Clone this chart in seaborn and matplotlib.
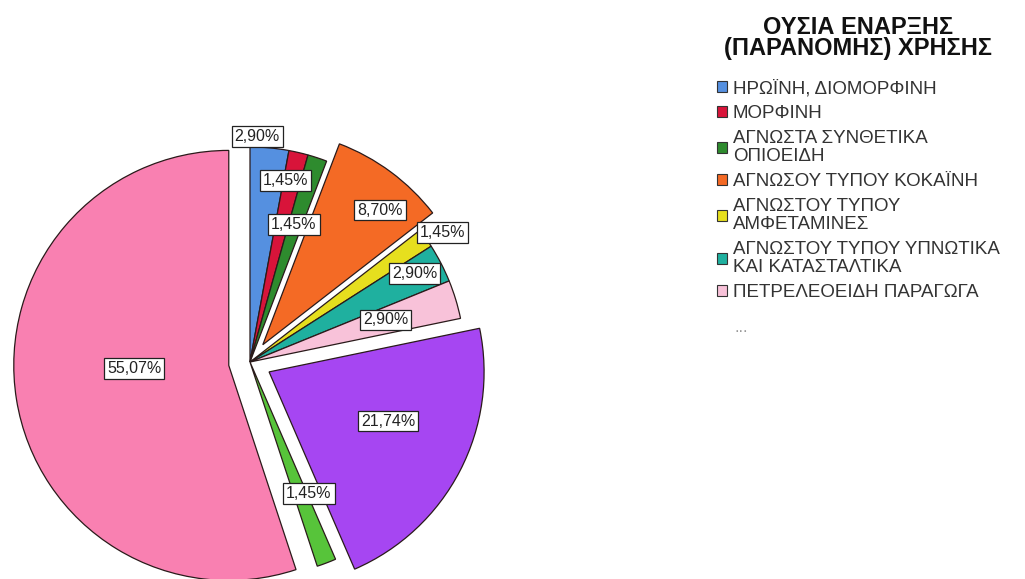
import numpy as np
import matplotlib
matplotlib.use("Agg")
import matplotlib.pyplot as plt
from matplotlib.patches import Patch
import seaborn as sns

# Share of each substance (percent), clockwise from 12 o'clock
shares = [2.90, 1.45, 1.45, 8.70, 1.45, 2.90, 2.90, 21.74, 1.45, 55.07]
share_labels = ["2,90%", "1,45%", "1,45%", "8,70%", "1,45%",
                "2,90%", "2,90%", "21,74%", "1,45%", "55,07%"]
legend_title = "ΟΥΣΙΑ ΕΝΑΡΞΗΣ\n(ΠΑΡΑΝΟΜΗΣ) ΧΡΗΣΗΣ"
legend_names = ["ΗΡΩΪΝΗ, ΔΙΟΜΟΡΦΙΝΗ",
                "ΜΟΡΦΙΝΗ",
                "ΑΓΝΩΣΤΑ ΣΥΝΘΕΤΙΚΑ\nΟΠΙΟΕΙΔΗ",
                "ΑΓΝΩΣΟΥ ΤΥΠΟΥ ΚΟΚΑΪΝΗ",
                "ΑΓΝΩΣΤΟΥ ΤΥΠΟΥ\nΑΜΦΕΤΑΜΙΝΕΣ",
                "ΑΓΝΩΣΤΟΥ ΤΥΠΟΥ ΥΠΝΩΤΙΚΑ\nΚΑΙ ΚΑΤΑΣΤΑΛΤΙΚΑ",
                "ΠΕΤΡΕΛΕΟΕΙΔΗ ΠΑΡΑΓΩΓΑ"]

sns.set_theme(style="white")
plt.rcParams["font.family"] = ["Liberation Sans", "DejaVu Sans"]

colors = sns.color_palette(["#5590e0", "#d8143a", "#2e8b2e", "#f46a25", "#e6df1e",
                            "#1fb09f", "#f8c2d9", "#a646f2", "#57c43a", "#f980b1"])
explode = [0, 0, 0, 0.1, 0, 0, 0, 0.1, 0, 0.1]

# label placement: distance from centre (radius units) and angular nudge (deg)
label_r = [1.05, 0.86, 0.67, 0.93, 1.08, 0.87, 0.66, 0.70, 0.67, 0.54]
label_dt = [-3.4, -1.9, -0.5, 4.0, 1.2, -0.8, -0.3, -4.3, -3.3, 6.0]

W, H = 1025, 579
fig = plt.figure(figsize=(W / 100, H / 100), dpi=100)
R = 215.0            # pie radius in pixels
cx, cy = 250.0, H - 362.0
xl, xr = -1.15, 1.15
yb, yt = -1.05, 1.40
ax = fig.add_axes([(cx + xl * R) / W, (cy + yb * R) / H,
                   (xr - xl) * R / W, (yt - yb) * R / H])

wedges, _ = ax.pie(shares, colors=colors, explode=explode, startangle=90,
                   counterclock=False, radius=1.0,
                   wedgeprops=dict(edgecolor="#2a1a1a", linewidth=0.9))
ax.set_aspect("auto")
ax.set_xlim(xl, xr)
ax.set_ylim(yb, yt)
ax.axis("off")
for w in wedges:
    w.set_clip_on(False)

total = sum(shares)
cum = np.cumsum([0] + shares[:-1]) / total * 360.0
mids = cum + np.array(shares) / total * 180.0
for lab, m, r, dt in zip(share_labels, mids, label_r, label_dt):
    th = np.deg2rad(m + dt)
    ax.text(r * np.sin(th), r * np.cos(th), lab, ha="center", va="center",
            fontsize=11.5, color="#222222", zorder=5,
            bbox=dict(boxstyle="square,pad=0.18", facecolor="white",
                      edgecolor="#222222", linewidth=0.9))

handles = [Patch(facecolor=c, edgecolor="#333333", linewidth=0.8)
           for c in colors[:len(legend_names)]]
leg = fig.legend(handles, legend_names, title=legend_title,
                 loc="upper left", bbox_to_anchor=(717 / W, 1 - 16 / H),
                 frameon=False, fontsize=13.5, title_fontsize=17,
                 handlelength=0.55, handleheight=0.55, handletextpad=0.3,
                 labelspacing=0.42, borderaxespad=0, borderpad=0,
                 alignment="center")
leg._legend_box.sep = 14
title = leg.get_title()
title.set_fontweight("bold")
title.set_linespacing(0.9)
title.set_multialignment("center")
title.set_color("#111111")
for t in leg.get_texts():
    t.set_color("#333333")
    t.set_linespacing(1.1)
fig.text(735 / W, 1 - 327 / H, "...", fontsize=12, color="#999999",
         ha="left", va="center")

fig.savefig("out.png", dpi=100, facecolor="white")
